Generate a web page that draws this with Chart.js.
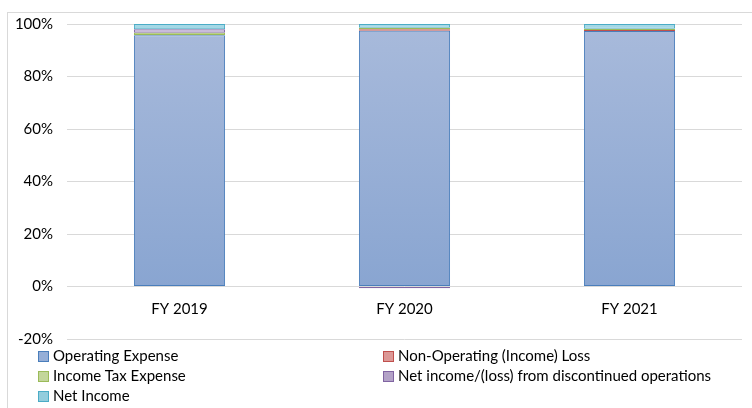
<!DOCTYPE html>
<html>
<head>
<meta charset="utf-8">
<script src="https://cdn.jsdelivr.net/npm/chart.js@4"></script>
<style>
    html, body { margin: 0; padding: 0; background: #fff; }
    #wrap { position: relative; width: 752px; height: 408px; overflow: hidden; font-family: Lato, "Open Sans", sans-serif; }
    #frame { position: absolute; left: 7px; top: 12px; width: 760px; height: 420px; border-left: 1px solid #d9d9d9; border-top: 1px solid #d9d9d9; pointer-events: none; }
    canvas { position: absolute; left: 0; top: 0; }
    .legend-item { position: absolute; height: 20px; line-height: 20px; font-size: 15px; color: #000; white-space: nowrap; }
    .legend-item i { display: inline-block; width: 9px; height: 9px; margin-right: 4px; vertical-align: -1px; border: 1px solid; }
</style>
</head>
<body>
<div id="wrap">
    <canvas id="myChart" width="752" height="408"></canvas>
    <div id="frame"></div>
    <div id="legend"></div>
</div>
<script>
// values, share of total (%)
const categories = ['FY 2019', 'FY 2020', 'FY 2021'];
const operatingExpense = [95.7, 97.4, 97.3];
const nonOperatingLoss = [0.1, 0.6, 0.4];
const incomeTaxExpense = [0.9, 0.6, 0.5];
const discontinuedOps = [1.3, -0.7, null];
const netIncome = [2.0, 1.4, 1.8];

const seriesNames = [
    'Operating Expense',
    'Non-Operating (Income) Loss',
    'Income Tax Expense',
    'Net income/(loss) from discontinued operations',
    'Net Income'
];

document.addEventListener('DOMContentLoaded', () => {
    const ctx = document.getElementById('myChart').getContext('2d');

    // Excel-ish vertical gradient fill
    const gradientFill = (top, bottom) => (context) => {
        const chart = context.chart;
        const area = chart.chartArea;
        if (!area) return bottom;
        const y0 = chart.scales.y.getPixelForValue(0);
        const g = chart.ctx.createLinearGradient(0, area.top, 0, y0);
        g.addColorStop(0, top);
        g.addColorStop(1, bottom);
        return g;
    };

    const makeSet = (label, data, top, bottom, border, swatch) => ({
        label,
        data,
        backgroundColor: gradientFill(top, bottom),
        borderColor: border,
        borderWidth: 1,
        borderSkipped: false,
        swatch
    });

    const datasets = [
        makeSet(seriesNames[0], operatingExpense, '#a8badb', '#89a5d1', '#4a7ebb', '#95aed7'),
        makeSet(seriesNames[1], nonOperatingLoss, '#e6a9a7', '#d98b89', '#c0504d', '#dc9896'),
        makeSet(seriesNames[2], incomeTaxExpense, '#cfe0a9', '#b4cc82', '#9bbb59', '#c3d69b'),
        makeSet(seriesNames[3], discontinuedOps, '#c2b3d6', '#a896c1', '#8064a2', '#b3a2c7'),
        makeSet(seriesNames[4], netIncome, '#a5d8e6', '#85c6d8', '#4bacc6', '#93cddd')
    ];

    new Chart(ctx, {
        type: 'bar',
        data: { labels: categories, datasets },
        options: {
            responsive: false,
            animation: false,
            devicePixelRatio: 1,
            layout: { padding: { top: 24, right: 10, bottom: 69, left: 0 } },
            datasets: { bar: { barPercentage: 0.405, categoryPercentage: 1 } },
            plugins: { legend: { display: false }, tooltip: { enabled: false } },
            scales: {
                x: {
                    stacked: true,
                    position: { y: 0 },
                    grid: { display: false },
                    border: { display: false },
                    ticks: { color: '#000', padding: 6, font: { family: 'Lato', size: 15 } }
                },
                y: {
                    stacked: true,
                    min: -20,
                    max: 100,
                    ticks: {
                        stepSize: 20,
                        color: '#000',
                        padding: 14,
                        font: { family: 'Lato', size: 15 },
                        callback: (v) => v + '%'
                    },
                    grid: { color: '#d9d9d9', lineWidth: 1, drawTicks: false },
                    border: { display: false },
                    afterFit: (scale) => { scale.width = 67; }
                }
            }
        }
    });

    // legend in two columns like the original
    const legend = document.getElementById('legend');
    const cols = [38, 383];
    datasets.forEach((ds, i) => {
        const item = document.createElement('div');
        item.className = 'legend-item';
        item.style.left = cols[i % 2] + 'px';
        item.style.top = (345 + Math.floor(i / 2) * 20) + 'px';
        item.innerHTML = `<i style="background:${ds.swatch};border-color:${ds.borderColor}"></i>${ds.label}`;
        legend.appendChild(item);
    });
});
</script>
</body>
</html>
